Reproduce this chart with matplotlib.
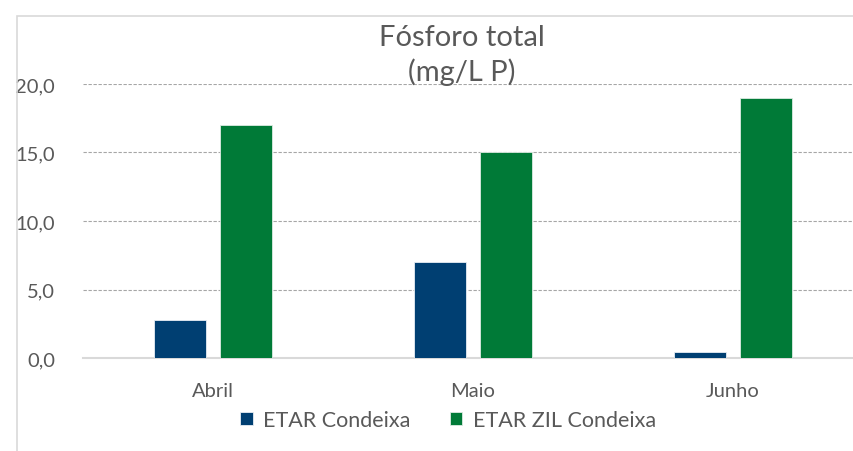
import matplotlib
matplotlib.use("Agg")
import matplotlib.pyplot as plt
import numpy as np
from matplotlib.patches import Rectangle

categories = ["Abril", "Maio", "Junho"]
series_names = ["ETAR Condeixa", "ETAR ZIL Condeixa"]
etar_condeixa = [2.8, 7.0, 0.45]
etar_zil_condeixa = [17.0, 15.0, 19.0]
yticks = [0, 5, 10, 15, 20]
ytick_labels = ["0,0", "5,0", "10,0", "15,0", "20,0"]

blue = "#003F72"
green = "#007A37"
text_col = "#595959"

plt.rcParams['font.family'] = ['Lato', 'DejaVu Sans']

fig = plt.figure(figsize=(8.54, 4.52), dpi=100)
# chart border
fig.patches.append(Rectangle((17/854, -0.1), 1.2, 1 - 17/452 + 0.1, transform=fig.transFigure,
                             fill=False, edgecolor="#D9D9D9", linewidth=1.2))

ax = fig.add_axes([83/854, 1 - 359/452, 780/854, (359 - 85)/452])
x = np.arange(len(categories))
w = 0.2
off = 0.127
ax.bar(x - off, etar_condeixa, w, color=blue, edgecolor="#E8EEF4", linewidth=0.6, label=series_names[0], zorder=3)
ax.bar(x + off, etar_zil_condeixa, w, color=green, edgecolor="#DDEBE2", linewidth=0.6, label=series_names[1], zorder=3)

ax.set_xlim(-0.5, 2.5)
ax.set_ylim(0, 20)
ax.set_yticks(yticks)
ax.set_yticklabels(ytick_labels)
ax.set_xticks(x)
ax.set_xticklabels(categories)
ax.tick_params(axis='both', length=0, labelsize=14.5, colors=text_col)
ax.tick_params(axis='x', pad=17)
ax.tick_params(axis='y', pad=20)
for s in ["top", "right", "left"]:
    ax.spines[s].set_visible(False)
ax.spines["bottom"].set_color("#D9D9D9")
ax.spines["bottom"].set_linewidth(1.5)
ax.yaxis.grid(True, color="#A6A6A6", linestyle=(0, (3, 1.5)), linewidth=0.8, zorder=0)
ax.set_axisbelow(True)
for t in ax.get_yticklabels():
    t.set_horizontalalignment('right')

fig.text(462/854, 1 - 38/452, "Fósforo total", ha="center", va="center", fontsize=21, color=text_col)
fig.text(462/854, 1 - 72/452, "(mg/L P)", ha="center", va="center", fontsize=21, color=text_col)

leg = fig.legend(loc="center", bbox_to_anchor=(448/854, 1 - 421/452), ncol=2, frameon=False,
                 fontsize=15.5, handlelength=0.6, handleheight=0.6, handletextpad=0.5,
                 columnspacing=1.8, labelcolor=text_col)

fig.savefig("out.png", dpi=100)
